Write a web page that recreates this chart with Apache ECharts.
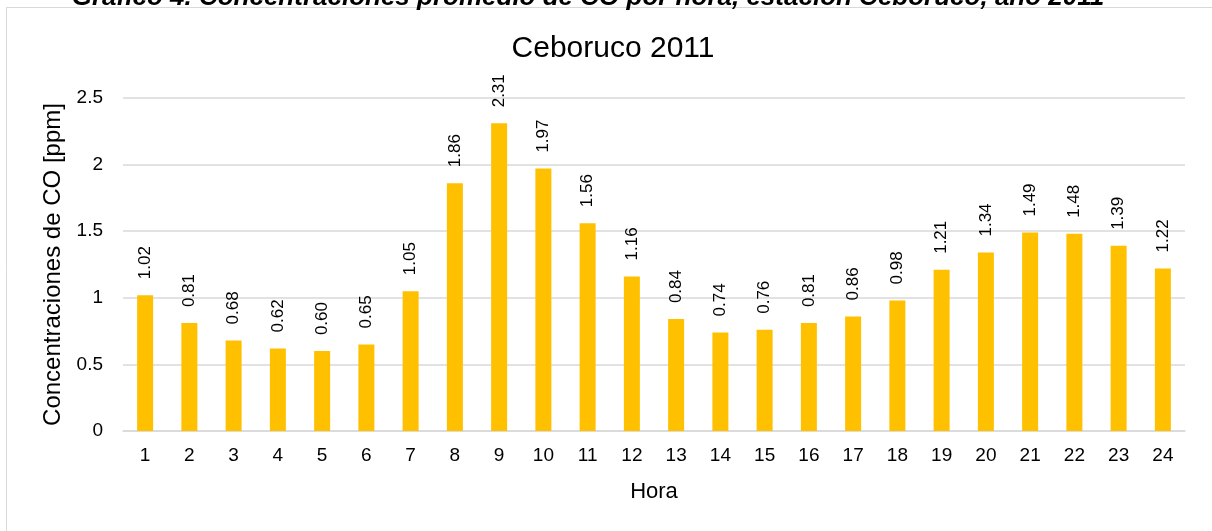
<!DOCTYPE html>
<html>
<head>
<meta charset="utf-8">
<script src="https://cdn.jsdelivr.net/npm/echarts@6/dist/echarts.min.js"></script>
<style>html,body{margin:0;padding:0;background:#fff}#c{width:1212px;height:531px}</style>
</head>
<body>
<div id="c"></div>
<script>
const hours = ['1','2','3','4','5','6','7','8','9','10','11','12','13','14','15','16','17','18','19','20','21','22','23','24'];
const coValues = [1.02,0.81,0.68,0.62,0.60,0.65,1.05,1.86,2.31,1.97,1.56,1.16,0.84,0.74,0.76,0.81,0.86,0.98,1.21,1.34,1.49,1.48,1.39,1.22];
const yTicks = [0, 0.5, 1, 1.5, 2, 2.5];
const chartTitle = 'Ceboruco 2011';
const caption = 'Gráfico 4. Concentraciones promedio de CO por hora, estación Ceboruco, año 2011';
const yName = 'Concentraciones de CO [ppm]';
const xName = 'Hora';

const font = 'Liberation Sans, Arial, sans-serif';
const chart = echarts.init(document.getElementById('c'), null, {renderer: 'canvas'});
chart.setOption({
  animation: false,
  backgroundColor: '#fff',
  textStyle: {fontFamily: font},
  title: {
    text: chartTitle,
    left: 608, top: 29,
    textAlign: 'center',
    textStyle: {fontFamily: font, fontSize: 30, fontWeight: 'normal', color: '#000'}
  },
  graphic: [
    {type: 'rect', shape: {x: 6.5, y: 7.5, width: 1300, height: 700}, style: {fill: 'none', stroke: '#d9d9d9', lineWidth: 1}, silent: true},
    {type: 'text', x: 588, y: 11, style: {text: caption, font: 'italic bold 26px Liberation Sans, Arial, sans-serif', fill: '#000', align: 'center', verticalAlign: 'bottom'}, silent: true}
  ],
  grid: {left: 123, right: 27, top: 98, bottom: 100},
  xAxis: {
    type: 'category',
    data: hours,
    name: xName,
    nameLocation: 'middle',
    nameGap: 50,
    nameTextStyle: {fontFamily: font, fontSize: 22, color: '#000'},
    axisLine: {lineStyle: {color: '#d9d9d9', width: 1.5}},
    axisTick: {show: false},
    axisLabel: {fontFamily: font, fontSize: 19, color: '#000', margin: 15}
  },
  yAxis: {
    type: 'value',
    min: yTicks[0], max: yTicks[yTicks.length - 1], interval: 0.5,
    name: yName,
    nameLocation: 'middle',
    nameGap: 55,
    nameTextStyle: {fontFamily: font, fontSize: 24, color: '#000'},
    axisLine: {show: false},
    axisTick: {show: false},
    splitLine: {lineStyle: {color: '#d9d9d9', width: 1.5}},
    axisLabel: {fontFamily: font, fontSize: 19, color: '#000', margin: 20}
  },
  series: [{
    type: 'bar',
    data: coValues,
    barWidth: 16,
    itemStyle: {color: '#FFC000'},
    label: {
      show: true,
      position: 'top',
      rotate: 90,
      align: 'left',
      verticalAlign: 'middle',
      distance: 16,
      fontFamily: font,
      fontSize: 17,
      color: '#000',
      formatter: p => p.value.toFixed(2)
    }
  }]
});
</script>
</body>
</html>
